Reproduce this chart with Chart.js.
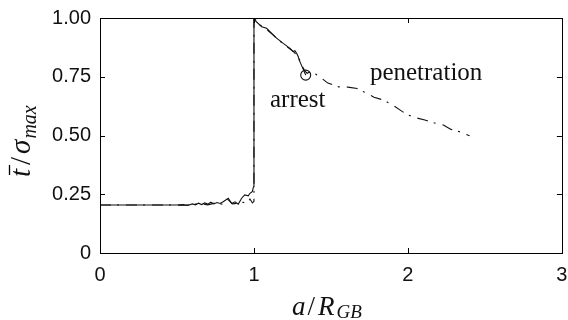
<!DOCTYPE html>
<html>
<head>
<meta charset="utf-8">
<script src="https://cdn.jsdelivr.net/npm/chart.js@4/dist/chart.umd.min.js"></script>
<style>
  html, body { margin: 0; padding: 0; background: #fff; }
  #wrap { width: 568px; height: 320px; }
</style>
</head>
<body>
<div id="wrap"><canvas id="c" width="568" height="320"></canvas></div>
<script>
// Normalised traction vs. crack length: the solid curve stops at arrest,
// the dash-dot curve carries on through the grain boundary (penetration).
const arrestX = [0, 0.50, 0.54, 0.57, 0.60, 0.62, 0.64, 0.66, 0.68, 0.70, 0.72, 0.74, 0.76, 0.78, 0.80,
  0.833, 0.855, 0.877, 0.898, 0.92, 0.94, 0.963, 0.974, 0.989, 0.997, 1.0, 1.0,
  1.013, 1.05, 1.082, 1.115, 1.147, 1.19, 1.234, 1.255, 1.266, 1.277, 1.288, 1.294, 1.303, 1.318, 1.336];
const arrestY = [0.204, 0.204, 0.206, 0.202, 0.209, 0.205, 0.212, 0.206, 0.213, 0.208, 0.216, 0.209, 0.215, 0.211, 0.218,
  0.233, 0.211, 0.218, 0.208, 0.233, 0.247, 0.243, 0.254, 0.261, 0.282, 0.30, 1.0,
  0.985, 0.963, 0.956, 0.935, 0.914, 0.892, 0.871, 0.857, 0.861, 0.85, 0.835, 0.821, 0.807, 0.785, 0.757];

const penetrationX = [0, 0.50, 0.55, 0.60, 0.65, 0.70, 0.75, 0.80, 0.83, 0.86, 0.90, 0.93, 0.955, 0.974, 0.99, 1.0, 1.0,
  1.013, 1.039, 1.08, 1.12, 1.15, 1.19, 1.23, 1.26, 1.29, 1.31, 1.33, 1.345, 1.37, 1.40,
  1.44, 1.48, 1.55, 1.61, 1.67, 1.73, 1.78, 1.84, 1.90, 1.95, 1.99, 2.06, 2.11, 2.16, 2.23, 2.28, 2.34, 2.40];
const penetrationY = [0.204, 0.204, 0.203, 0.207, 0.210, 0.205, 0.213, 0.207, 0.228, 0.209, 0.212, 0.216, 0.210, 0.230, 0.213, 0.22, 0.995,
  0.991, 0.970, 0.953, 0.93, 0.912, 0.89, 0.87, 0.855, 0.832, 0.80, 0.775, 0.765, 0.772, 0.762,
  0.743, 0.723, 0.707, 0.706, 0.70, 0.68, 0.663, 0.651, 0.63, 0.608, 0.59, 0.574, 0.566, 0.555, 0.545, 0.526, 0.515, 0.499];

// Arrest point marker
const arrestPointX = [1.336];
const arrestPointY = [0.757];

const xTicks = [0, 1, 2, 3];
const yTicks = [0, 0.25, 0.5, 0.75, 1.0];

const toPoints = (xs, ys) => xs.map((x, i) => ({ x: x, y: ys[i] }));

const INK = '#111';

const framePlugin = {
  id: 'frameAndText',
  afterDraw(chart) {
    const ctx = chart.ctx;
    const a = chart.chartArea;
    const xs = chart.scales.x, ys = chart.scales.y;
    ctx.save();
    ctx.strokeStyle = '#000';
    ctx.lineWidth = 1;
    // box
    ctx.strokeRect(Math.round(a.left) + 0.5, Math.round(a.top) + 0.5,
      Math.round(a.right - a.left), Math.round(a.bottom - a.top));
    // inward ticks on all four sides
    const tl = 5;
    ctx.beginPath();
    xTicks.forEach(v => {
      const px = Math.round(xs.getPixelForValue(v)) + 0.5;
      ctx.moveTo(px, a.bottom); ctx.lineTo(px, a.bottom - tl);
      ctx.moveTo(px, a.top); ctx.lineTo(px, a.top + tl);
    });
    yTicks.forEach(v => {
      const py = Math.round(ys.getPixelForValue(v)) + 0.5;
      ctx.moveTo(a.left, py); ctx.lineTo(a.left + tl, py);
      ctx.moveTo(a.right, py); ctx.lineTo(a.right - tl, py);
    });
    ctx.stroke();

    // annotations
    ctx.fillStyle = INK;
    ctx.textBaseline = 'alphabetic';
    ctx.textAlign = 'left';
    ctx.font = '25px "Liberation Serif"';
    ctx.fillText('arrest', xs.getPixelForValue(1.104), ys.getPixelForValue(0.621));
    ctx.fillText('penetration', xs.getPixelForValue(1.753), ys.getPixelForValue(0.736));

    // x axis title: a / R_GB
    const mainF = 'italic 27px "Liberation Serif"';
    const subF = 'italic 19px "Liberation Serif"';
    let cx = 292;
    const base = 315;
    ctx.font = mainF;
    ctx.fillText('a', cx, base); cx += ctx.measureText('a').width + 2;
    ctx.font = '27px "Liberation Serif"';
    ctx.fillText('/', cx, base); cx += ctx.measureText('/').width + 3;
    ctx.font = mainF;
    ctx.fillText('R', cx, base); cx += ctx.measureText('R').width + 2;
    ctx.font = subF;
    ctx.fillText('GB', cx, base + 3);

    // y axis title: t-bar / sigma_max
    ctx.save();
    ctx.translate(30, 178);
    ctx.rotate(-Math.PI / 2);
    let fx = 1;
    ctx.font = 'italic 29px "Liberation Serif"';
    ctx.fillText('t', fx, 0);
    const tw = ctx.measureText('t').width;
    ctx.beginPath();
    ctx.lineWidth = 1.3;
    ctx.moveTo(fx + 2, -20.5); ctx.lineTo(fx + tw + 4, -20.5);
    ctx.stroke();
    fx += tw + 4;
    ctx.font = '29px "Liberation Serif"';
    ctx.fillText('/', fx, 0); fx += ctx.measureText('/').width + 3;
    ctx.font = 'italic 29px "Liberation Serif"';
    ctx.fillText('\u03c3', fx, 0); fx += ctx.measureText('\u03c3').width + 1;
    ctx.font = 'italic 20px "Liberation Serif"';
    ctx.fillText('max', fx, 6);
    ctx.restore();

    ctx.restore();
  }
};

new Chart(document.getElementById('c'), {
  type: 'scatter',
  data: {
    datasets: [
      {
        data: toPoints(penetrationX, penetrationY),
        showLine: true,
        borderColor: INK,
        borderWidth: 1.1,
        borderDash: [11, 6, 2, 7],
        pointRadius: 0,
        tension: 0
      },
      {
        data: toPoints(arrestX, arrestY),
        showLine: true,
        borderColor: INK,
        borderWidth: 1.1,
        pointRadius: 0,
        tension: 0
      },
      {
        data: toPoints(arrestPointX, arrestPointY),
        showLine: false,
        pointRadius: 5,
        pointStyle: 'circle',
        pointBorderColor: INK,
        pointBackgroundColor: 'rgba(0,0,0,0)',
        pointBorderWidth: 1.1
      }
    ]
  },
  options: {
    responsive: false,
    animation: false,
    devicePixelRatio: 1,
    layout: { padding: { top: 18, right: 6, left: 0, bottom: 0 } },
    plugins: { legend: { display: false }, tooltip: { enabled: false } },
    scales: {
      x: {
        type: 'linear',
        min: 0, max: 3,
        afterFit(s) { s.height = 67; s.paddingLeft = 0; s.paddingRight = 0; },
        afterBuildTicks(s) { s.ticks = xTicks.map(v => ({ value: v })); },
        grid: { display: false, drawTicks: false },
        border: { display: false },
        ticks: {
          padding: 10,
          color: '#111',
          font: { family: '"Liberation Sans"', size: 20 },
          callback: v => String(v)
        }
      },
      y: {
        type: 'linear',
        min: 0, max: 1,
        afterFit(s) { s.width = 100; s.paddingTop = 0; s.paddingBottom = 0; },
        afterBuildTicks(s) { s.ticks = yTicks.map(v => ({ value: v })); },
        grid: { display: false, drawTicks: false },
        border: { display: false },
        ticks: {
          padding: 9,
          color: '#111',
          font: { family: '"Liberation Sans"', size: 20 },
          callback: v => (v === 0 ? '0' : v.toFixed(2))
        }
      }
    }
  },
  plugins: [framePlugin]
});
</script>
</body>
</html>
